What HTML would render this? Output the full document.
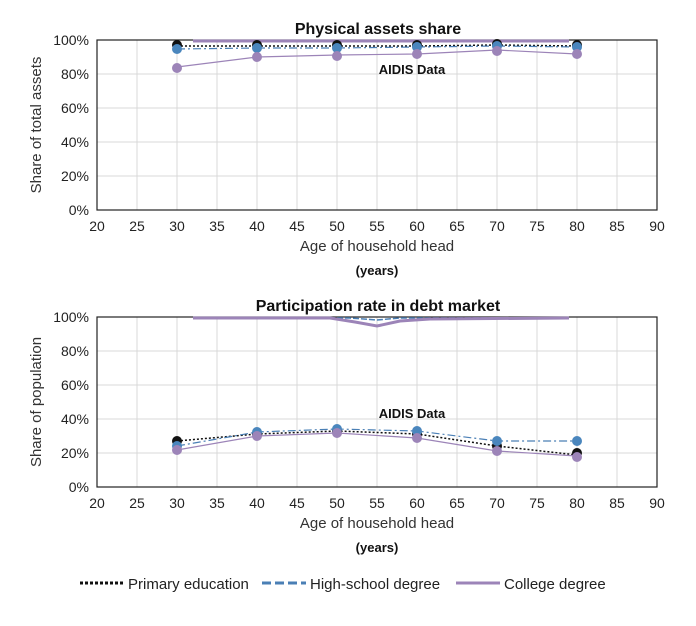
<!DOCTYPE html>
<html><head><style>body{margin:0;background:#fff}svg{font-family:"Liberation Sans",Arial,sans-serif}</style></head>
<body>
<svg width="696" height="621" viewBox="0 0 696 621" xmlns="http://www.w3.org/2000/svg">
<defs>
<g id="grid">
<g stroke="#d9d9d9" stroke-width="1">
<line x1="137" y1="0" x2="137" y2="170"/><line x1="177" y1="0" x2="177" y2="170"/><line x1="217" y1="0" x2="217" y2="170"/><line x1="257" y1="0" x2="257" y2="170"/><line x1="297" y1="0" x2="297" y2="170"/><line x1="337" y1="0" x2="337" y2="170"/><line x1="377" y1="0" x2="377" y2="170"/><line x1="417" y1="0" x2="417" y2="170"/><line x1="457" y1="0" x2="457" y2="170"/><line x1="497" y1="0" x2="497" y2="170"/><line x1="537" y1="0" x2="537" y2="170"/><line x1="577" y1="0" x2="577" y2="170"/><line x1="617" y1="0" x2="617" y2="170"/>
<line x1="97" y1="34" x2="657" y2="34"/><line x1="97" y1="68" x2="657" y2="68"/><line x1="97" y1="102" x2="657" y2="102"/><line x1="97" y1="136" x2="657" y2="136"/>
</g>
<rect x="97" y="0" width="560" height="170" fill="none" stroke="#222" stroke-width="1.2"/>
<g font-size="14" fill="#222" text-anchor="end">
<text x="89" y="5">100%</text><text x="89" y="39">80%</text><text x="89" y="73">60%</text><text x="89" y="107">40%</text><text x="89" y="141">20%</text><text x="89" y="175">0%</text>
</g>
<g font-size="14" fill="#222" text-anchor="middle">
<text x="97" y="191">20</text><text x="137" y="191">25</text><text x="177" y="191">30</text><text x="217" y="191">35</text><text x="257" y="191">40</text><text x="297" y="191">45</text><text x="337" y="191">50</text><text x="377" y="191">55</text><text x="417" y="191">60</text><text x="457" y="191">65</text><text x="497" y="191">70</text><text x="537" y="191">75</text><text x="577" y="191">80</text><text x="617" y="191">85</text><text x="657" y="191">90</text>
</g>
<text x="377" y="211" font-size="15" fill="#333" text-anchor="middle">Age of household head</text>
<text x="377" y="235" font-size="13" font-weight="bold" fill="#111" text-anchor="middle">(years)</text>
</g>
</defs>

<g transform="translate(0,40)">
<use href="#grid"/>
<text x="378" y="-6" font-size="16" font-weight="bold" fill="#111" text-anchor="middle">Physical assets share</text>
<text x="412" y="34" font-size="13" font-weight="bold" fill="#111" text-anchor="middle">AIDIS Data</text>
<line x1="193" y1="1" x2="569" y2="1" stroke="#9c84b8" stroke-width="3"/>
<polyline points="177,6 257,6 337,6 417,6 497,5 577,6" fill="none" stroke="#111" stroke-width="1.5" stroke-dasharray="2,2"/>
<polyline points="177,9 257,8 337,8 417,7 497,6 577,7" fill="none" stroke="#4a7fb5" stroke-width="1.2" stroke-dasharray="8,3,2,3"/>
<polyline points="177,27 257,17 337,15 417,14 497,10 577,14" fill="none" stroke="#9c84b8" stroke-width="1.2"/>
<g fill="#111"><circle cx="177" cy="5" r="5"/><circle cx="257" cy="5" r="5"/><circle cx="337" cy="5" r="5"/><circle cx="417" cy="5" r="5"/><circle cx="497" cy="4" r="5"/><circle cx="577" cy="5" r="5"/></g>
<g fill="#4a86bd"><circle cx="177" cy="9" r="5"/><circle cx="257" cy="8" r="5"/><circle cx="337" cy="8" r="5"/><circle cx="417" cy="7" r="5"/><circle cx="497" cy="6" r="5"/><circle cx="577" cy="7" r="5"/></g>
<g fill="#9c84b8"><circle cx="177" cy="28" r="5"/><circle cx="257" cy="17" r="5"/><circle cx="337" cy="16" r="5"/><circle cx="417" cy="14" r="5"/><circle cx="497" cy="11" r="5"/><circle cx="577" cy="14" r="5"/></g>
</g>
<text transform="translate(41,125) rotate(-90)" font-size="15" fill="#333" text-anchor="middle">Share of total assets</text>

<g transform="translate(0,317)">
<use href="#grid"/>
<text x="378" y="-6" font-size="16" font-weight="bold" fill="#111" text-anchor="middle">Participation rate in debt market</text>
<text x="412" y="101" font-size="13" font-weight="bold" fill="#111" text-anchor="middle">AIDIS Data</text>
<polyline points="193,1 320,1 350,1 377,3 400,1 569,1" fill="none" stroke="#4a7fb5" stroke-width="1.5" stroke-dasharray="6,2"/>
<polyline points="193,1 330,1 355,5 377,9 400,4 430,2 569,1" fill="none" stroke="#9c84b8" stroke-width="3"/>
<polyline points="177,124 257,117 337,114 417,117 497,129 577,138" fill="none" stroke="#111" stroke-width="1.5" stroke-dasharray="2,2"/>
<polyline points="177,129 257,115 337,112 417,114 497,124 577,124" fill="none" stroke="#4a7fb5" stroke-width="1.2" stroke-dasharray="8,3,2,3"/>
<polyline points="177,133 257,119 337,116 417,121 497,134 577,139" fill="none" stroke="#9c84b8" stroke-width="1.2"/>
<g fill="#111"><circle cx="177" cy="124" r="5"/><circle cx="257" cy="117" r="5"/><circle cx="337" cy="114" r="5"/><circle cx="417" cy="117" r="5"/><circle cx="497" cy="129" r="5"/><circle cx="577" cy="136" r="5"/></g>
<g fill="#4a86bd"><circle cx="177" cy="129" r="5"/><circle cx="257" cy="115" r="5"/><circle cx="337" cy="112" r="5"/><circle cx="417" cy="114" r="5"/><circle cx="497" cy="124" r="5"/><circle cx="577" cy="124" r="5"/></g>
<g fill="#9c84b8"><circle cx="177" cy="133" r="5"/><circle cx="257" cy="119" r="5"/><circle cx="337" cy="116" r="5"/><circle cx="417" cy="121" r="5"/><circle cx="497" cy="134" r="5"/><circle cx="577" cy="140" r="5"/></g>
</g>
<text transform="translate(41,402) rotate(-90)" font-size="15" fill="#333" text-anchor="middle">Share of population</text>

<line x1="80" y1="583" x2="124" y2="583" stroke="#111" stroke-width="3" stroke-dasharray="3,2"/>
<text x="128" y="589" font-size="15" fill="#222">Primary education</text>
<line x1="262" y1="583" x2="306" y2="583" stroke="#4a7fb5" stroke-width="3" stroke-dasharray="9,4"/>
<text x="310" y="589" font-size="15" fill="#222">High-school degree</text>
<line x1="456" y1="583" x2="500" y2="583" stroke="#9c84b8" stroke-width="3"/>
<text x="504" y="589" font-size="15" fill="#222">College degree</text>
</svg>
</body></html>
